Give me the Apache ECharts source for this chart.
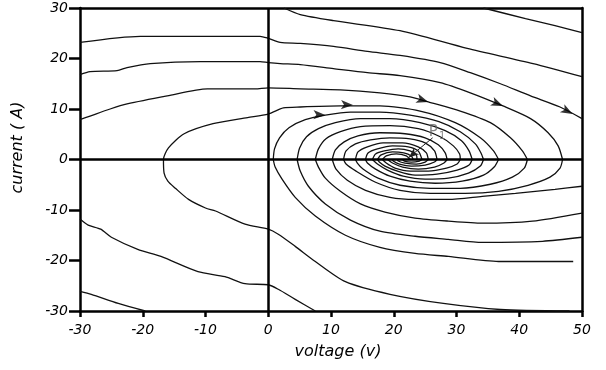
<!DOCTYPE html>
<html>
<head>
<meta charset="utf-8">
<script src="https://cdn.jsdelivr.net/npm/echarts@6/dist/echarts.min.js"></script>
<style>
  html, body { margin: 0; padding: 0; background: #fff; }
  #chart { width: 606px; height: 370px; }
</style>
</head>
<body>
<div id="chart"></div>
<script>
// axis ticks
const xTicks = [-30, -20, -10, 0, 10, 20, 30, 40, 50];
const yTicks = [-30, -20, -10, 0, 10, 20, 30];

// trajectories, points are [voltage, current]
// upper ones coming in from the top / left
const curveT0 = [[34.3,30],[41.0,27.9],[45.7,26.5],[50,25.1]];
const curveT1 = [[2.5,30],[5.1,28.7],[10.4,27.5],[21.0,25.5],[31.7,22.0],[42.2,19.0],[50,16.4]];
const curveA = [[-30,23.2],[-20.4,24.4],[-1.3,24.4],[0,24.0],[1.9,23.2],[5.1,23.0],[10.4,22.4],[15.8,21.4],[21.0,20.6],[27.4,19.2],[32.2,17.2],[37.0,15.0],[41.8,12.6],[46.5,10.4],[50,8.1]];
const curveB = [[-30,16.8],[-28.4,17.4],[-24.1,17.6],[-22.5,18.2],[-18.8,19.0],[-10.8,19.4],[-1.3,19.4],[0,19.2],[1.9,19.0],[5.1,18.8],[10.4,18.0],[15.8,17.2],[21.0,16.6],[27.4,15.2],[32.2,13.2],[37.4,10.6],[41.8,8.1],[44.6,5.3],[46.2,2.7],[46.9,0]];
const curveBLow = [[46.9,0],[46.5,-1.7],[44.9,-3.5],[41.4,-5.1],[36.7,-6.3],[31.4,-6.7],[25.8,-6.7],[21.0,-6.1],[17.1,-4.5],[14.0,-2.3],[12.4,-0.9],[12.0,0]];
const curveC = [[-30,7.9],[-28.4,8.6],[-25.2,10.0],[-22.5,11.0],[-16.1,12.6],[-9.7,14.0],[-2.1,14.0],[0,14.2],[5.1,14.0],[11.5,13.8],[17.8,13.2],[22.6,12.4],[25.5,11.4],[30.6,9.6],[35.4,7.3],[38.6,4.3],[40.5,1.7],[41.3,0]];
const curveCLow = [[41.3,0],[40.8,-1.7],[38.9,-3.5],[35.4,-4.9],[30.6,-5.7],[25.8,-5.7],[21.0,-5.1],[17.5,-3.7],[15.1,-1.9],[14.2,-0.7],[13.9,0]];
// outer loop from bottom right, round the left, over the top
const curveD = [[48,-30],[37.0,-29.7],[27.9,-28.5],[19.4,-26.7],[12.3,-24.2],[7.5,-20.2],[4.3,-17.2],[1.6,-14.8],[0,-13.8],[-3.7,-12.8],[-8.4,-10.2],[-10.0,-9.6],[-12.7,-7.9],[-14.8,-5.7],[-16.0,-4.3],[-16.6,-2.7],[-16.7,0],[-15.9,2.3],[-13.4,5.1],[-8.8,7.1],[-3.3,8.3],[0,9.0],[2.4,10.2],[5.1,10.4],[11.5,10.6],[17.8,10.6],[24.2,9.6],[29.8,7.3],[33.8,4.3],[35.9,1.7],[36.7,0]];
// lower ones entering from the right edge
const curveE = [[0.8,0],[1.1,-1.5],[2.2,-3.9],[4.3,-7.5],[7.5,-11.2],[12.3,-15.0],[17.8,-17.4],[23.4,-18.6],[28.7,-19.2],[36.7,-20.2],[48.6,-20.2]];
const curveF = [[4.6,0],[5.1,-2.3],[6.4,-5.3],[9.1,-8.8],[13.1,-12.0],[17.8,-14.2],[23.4,-15.2],[28.7,-15.8],[34.1,-16.4],[43.7,-16.2],[50,-15.4]];
const curveG = [[7.5,0],[8.0,-1.5],[9.1,-3.7],[11.5,-6.3],[14.7,-8.8],[18.6,-10.4],[23.4,-11.6],[28.7,-12.2],[34.1,-12.6],[42.1,-12.2],[50,-10.6]];
const curveH = [[10.2,0],[10.8,-1.9],[12.6,-4.1],[15.5,-6.1],[19.4,-7.5],[23.4,-7.9],[28.7,-7.9],[34.1,-7.3],[39.4,-6.7],[45.7,-5.9],[50,-5.3]];
// lower left corner
const curveL1 = [[7.5,-30],[4.3,-27.7],[1.6,-25.7],[0,-24.8],[-3.7,-24.6],[-6.9,-23.2],[-11.2,-22.2],[-17.1,-19.2],[-20.8,-17.8],[-25.0,-15.4],[-26.7,-13.8],[-28.7,-13.0],[-30,-11.8]];
const curveL0 = [[-19.6,-30],[-23.9,-28.5],[-28.2,-26.7],[-30,-26.1]];

// spiral around P1: upper halves
const arcU1 = [[0.8,0],[1.0,2.1],[1.8,4.3],[3.3,6.3],[5.9,7.9],[9.1,8.8],[13.1,9.4],[17.8,9.4],[22.6,8.8],[27.2,7.5],[30.6,5.5],[33.0,3.1],[33.9,1.3],[34.3,0]];
const arcU2 = [[4.6,0],[5.0,2.3],[6.1,4.5],[8.0,6.1],[10.7,7.3],[14.7,8.1],[19.4,8.1],[24.2,7.3],[28.2,5.7],[30.8,3.7],[32.0,1.7],[32.5,0]];
const arcU3 = [[7.5,0],[8.0,2.1],[9.2,4.1],[11.5,5.5],[14.7,6.5],[19.4,6.7],[23.9,6.1],[27.4,4.5],[29.5,2.7],[30.5,1.1],[30.6,0]];
const arcU4 = [[10.2,0],[10.7,1.9],[12.1,3.5],[14.3,4.7],[17.8,5.3],[21.8,5.1],[25.0,4.3],[27.1,2.9],[28.2,1.3],[28.5,0]];
const arcU5 = [[12.0,0],[12.4,1.7],[13.9,3.1],[16.3,3.9],[19.4,4.3],[22.6,4.1],[25.0,3.3],[26.5,1.7],[26.9,0]];
const arcU6 = [[13.9,0],[14.3,1.5],[15.8,2.5],[18.3,3.3],[21.4,3.3],[23.9,2.5],[25.2,1.3],[25.5,0]];
const arcU7 = [[15.5,0],[15.9,1.3],[17.4,2.1],[19.8,2.7],[22.3,2.5],[23.9,1.7],[24.5,0]];
const arcU8 = [[16.6,0],[17.1,1.1],[18.5,1.7],[20.7,2.1],[22.6,1.7],[23.6,0.9],[23.7,0]];
const arcU9 = [[17.4,0],[18.0,0.9],[19.8,1.5],[21.6,1.3],[22.8,0.7],[23.1,0]];
const arcU10 = [[18.2,0],[18.8,0.7],[20.4,1.1],[22.0,0.7],[22.6,0]];
// spiral around P1: lower halves
const arcL1 = [[36.7,0],[36.0,-1.5],[34.3,-3.1],[30.9,-4.3],[26.6,-4.7],[22.6,-4.3],[19.4,-3.3],[17.1,-1.9],[15.8,-0.7],[15.5,0]];
const arcL2 = [[34.3,0],[33.8,-1.3],[31.9,-2.7],[28.7,-3.7],[25.0,-3.9],[21.5,-3.3],[19.0,-2.1],[17.4,-0.9],[16.6,0]];
const arcL3 = [[32.5,0],[32.0,-1.1],[30.1,-2.1],[26.9,-2.9],[23.4,-3.1],[20.6,-2.3],[18.6,-1.3],[17.7,-0.5],[17.4,0]];
const arcL4 = [[30.6,0],[30.1,-0.9],[28.4,-1.7],[25.5,-2.3],[22.6,-2.3],[20.2,-1.7],[18.8,-0.7],[18.2,0]];
const arcL5 = [[28.5,0],[28.0,-0.7],[26.5,-1.5],[23.9,-1.9],[21.4,-1.5],[19.8,-0.7],[19.0,0]];
const arcL6 = [[26.9,0],[26.5,-0.5],[25.0,-1.1],[22.8,-1.3],[20.9,-0.9],[19.9,-0.3],[19.8,0]];
const arcL7 = [[25.5,0],[25.0,-0.5],[23.6,-0.9],[21.8,-0.7],[20.7,-0.3],[20.6,0]];
const arcL8 = [[24.5,0],[24.1,-0.3],[22.8,-0.5],[21.7,-0.3],[21.4,0]];

// direction arrows on the trajectories
const arrowPts = [[48.5,9.0],[37.4,10.6],[25.5,11.4],[13.5,10.8],[9.1,8.8]];
const arrowAngles = [-119, -113, -108, -92, -92];

// equilibrium label and pointer
const p1Label = [26.9, 5.5];
const p1Pointer = [[26.2, 4.3], [22.4, 0.4]];

const allCurves = [
  curveT0, curveT1, curveA, curveB, curveBLow, curveC, curveCLow, curveD,
  curveE, curveF, curveG, curveH, curveL1, curveL0,
  arcU1, arcU2, arcU3, arcU4, arcU5, arcU6, arcU7, arcU8, arcU9, arcU10,
  arcL1, arcL2, arcL3, arcL4, arcL5, arcL6, arcL7, arcL8
];

const ink = '#111';
const font = 'DejaVu Sans';

const chart = echarts.init(document.getElementById('chart'), null, { renderer: 'canvas' });

const series = allCurves.map(pts => ({
  type: 'line',
  data: pts,
  symbol: 'none',
  smooth: 0.25,
  silent: true,
  lineStyle: { color: ink, width: 1.3 }
}));

// zero axes through the middle of the plot
series.push({
  type: 'scatter',
  data: [],
  silent: true,
  markLine: {
    silent: true,
    symbol: 'none',
    label: { show: false },
    lineStyle: { color: '#000', width: 2.5, type: 'solid' },
    data: [{ xAxis: 0 }, { yAxis: 0 }]
  }
});

series.push({
  type: 'scatter',
  symbol: 'arrow',
  symbolSize: [7, 12],
  silent: true,
  itemStyle: { color: '#000' },
  data: arrowPts.map((p, k) => ({ value: p, symbolRotate: arrowAngles[k] })),
  z: 5
});

series.push({
  type: 'scatter',
  symbolSize: 0,
  silent: true,
  data: [p1Label],
  label: {
    show: true,
    position: 'inside',
    formatter: '{p|P}{s|1}',
    rich: {
      p: { fontSize: 15, color: '#666', fontFamily: font },
      s: { fontSize: 10, color: '#666', fontFamily: font, padding: [9, 0, 0, 1] }
    }
  },
  markLine: {
    silent: true,
    symbol: ['none', 'arrow'],
    symbolSize: [6, 10],
    label: { show: false },
    lineStyle: { color: '#222', width: 1, type: 'solid' },
    data: [[{ coord: p1Pointer[0] }, { coord: p1Pointer[1] }]]
  },
  z: 6
});

const axisInk = { color: '#000', width: 2.5 };
const tickText = { fontSize: 14, fontStyle: 'italic', fontFamily: font, color: '#000' };
const nameText = { fontSize: 16, fontStyle: 'italic', fontFamily: font, color: '#000' };

// bare axes on the top and right close the frame
const frameAxis = {
  type: 'value',
  axisLine: { show: true, onZero: false, lineStyle: axisInk },
  axisTick: { show: false },
  axisLabel: { show: false },
  splitLine: { show: false }
};

const option = {
  animation: false,
  backgroundColor: '#fff',
  grid: { left: 80, right: 24, top: 8, bottom: 59 },
  xAxis: [{
    type: 'value',
    position: 'bottom',
    min: xTicks[0],
    max: xTicks[xTicks.length - 1],
    interval: xTicks[1] - xTicks[0],
    name: 'voltage (v)',
    nameLocation: 'middle',
    nameGap: 33,
    nameTextStyle: Object.assign({ padding: [0, 0, 0, 14] }, nameText),
    axisLine: { show: true, onZero: false, lineStyle: axisInk },
    axisTick: { show: true, inside: false, length: 6, lineStyle: axisInk },
    axisLabel: Object.assign({ show: true, margin: 12 }, tickText),
    splitLine: { show: false }
  }, Object.assign({
    position: 'top',
    min: xTicks[0],
    max: xTicks[xTicks.length - 1]
  }, frameAxis)],
  yAxis: [{
    type: 'value',
    position: 'left',
    min: yTicks[0],
    max: yTicks[yTicks.length - 1],
    interval: yTicks[1] - yTicks[0],
    name: 'current ( A)',
    nameLocation: 'middle',
    nameGap: 54,
    nameTextStyle: Object.assign({ padding: [0, 0, 0, 24] }, nameText),
    axisLine: { show: true, onZero: false, lineStyle: axisInk },
    axisTick: { show: true, inside: false, length: 11, lineStyle: axisInk },
    axisLabel: Object.assign({ show: true, margin: 12, padding: [0, 0, 6, 0] }, tickText),
    splitLine: { show: false }
  }, Object.assign({
    position: 'right',
    min: yTicks[0],
    max: yTicks[yTicks.length - 1]
  }, frameAxis)],
  series: series
};

chart.setOption(option);
</script>
</body>
</html>
